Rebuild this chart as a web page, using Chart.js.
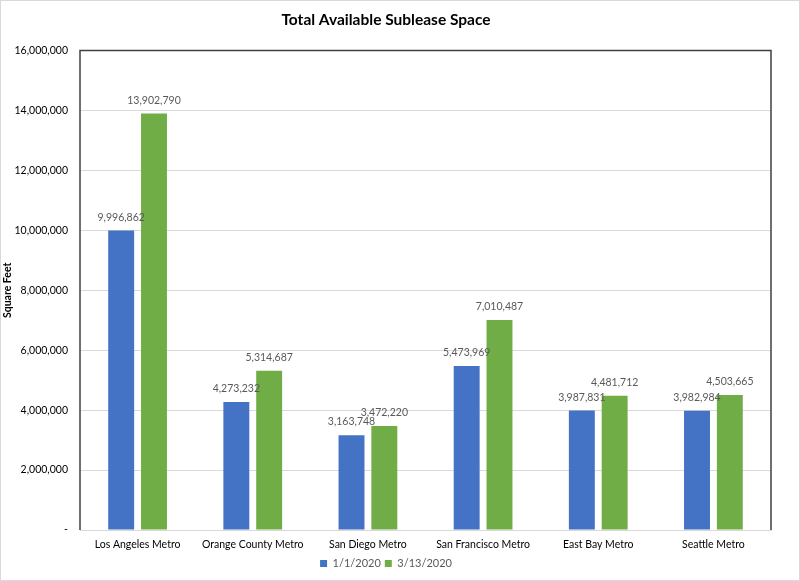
<!DOCTYPE html>
<html>
<head>
<meta charset="utf-8">
<script src="https://cdn.jsdelivr.net/npm/chart.js@4"></script>
<style>
  html, body { margin: 0; padding: 0; background: #fff; }
  #wrap { position: relative; width: 798px; height: 579px; border: 1px solid #d9d9d9; }
</style>
</head>
<body>
<div id="wrap"><canvas id="c"></canvas></div>
<script>
// ── DATA ──────────────────────────────────────────────────────────────────
const markets = ['Los Angeles Metro', 'Orange County Metro', 'San Diego Metro', 'San Francisco Metro', 'East Bay Metro', 'Seattle Metro'];
const jan2020 = [9996862, 4273232, 3163748, 5473969, 3987831, 3982984];
const mar2020 = [13902790, 5314687, 3472220, 7010487, 4481712, 4503665];
const seriesNames = ['1/1/2020', '3/13/2020'];

const FONT = 'Lato, "Open Sans", sans-serif';
const fmt = v => v.toLocaleString('en-US');

// labels above each bar
const barLabels = {
  id: 'barLabels',
  afterDatasetsDraw(chart) {
    const ctx = chart.ctx;
    ctx.save();
    ctx.fillStyle = '#595959';
    ctx.font = '10.5px ' + FONT;
    ctx.textAlign = 'center';
    ctx.textBaseline = 'bottom';
    chart.data.datasets.forEach((ds, i) => {
      chart.getDatasetMeta(i).data.forEach((bar, j) => {
        ctx.fillText(fmt(ds.data[j]), bar.x, bar.y - 8);
      });
    });
    ctx.restore();
  }
};

// dark frame on top/left/right of plot area
const plotFrame = {
  id: 'plotFrame',
  afterDraw(chart) {
    const { left, right, top, bottom } = chart.chartArea;
    const ctx = chart.ctx;
    ctx.save();
    ctx.strokeStyle = '#404040';
    ctx.lineWidth = 1.5;
    ctx.beginPath();
    ctx.moveTo(left, bottom);
    ctx.lineTo(left, top);
    ctx.lineTo(right, top);
    ctx.lineTo(right, bottom);
    ctx.stroke();
    ctx.restore();
  }
};

new Chart(document.getElementById('c'), {
  type: 'bar',
  data: {
    labels: markets,
    datasets: [
      { label: seriesNames[0], data: jan2020, backgroundColor: '#4472C4', categoryPercentage: 0.57, barPercentage: 0.79 },
      { label: seriesNames[1], data: mar2020, backgroundColor: '#70AD47', categoryPercentage: 0.57, barPercentage: 0.79 }
    ]
  },
  options: {
    responsive: true,
    maintainAspectRatio: false,
    animation: false,
    layout: { padding: { left: 0, right: 28, top: 8, bottom: 1 } },
    plugins: {
      title: {
        display: true,
        text: 'Total Available Sublease Space',
        color: '#000',
        font: { family: FONT, size: 15.5, weight: 'bold' },
        padding: { top: 2, bottom: 21 }
      },
      legend: {
        position: 'bottom',
        labels: { color: '#595959', font: { family: FONT, size: 11 }, boxWidth: 7, boxHeight: 7, padding: 4 }
      },
      tooltip: { enabled: false }
    },
    scales: {
      x: {
        afterFit(scale) { scale.height = 24; },
        grid: { display: false, drawTicks: false },
        border: { color: '#d9d9d9', width: 1 },
        ticks: { color: '#000', font: { family: FONT, size: 10.5 }, padding: 8, maxRotation: 0 }
      },
      y: {
        min: 0,
        max: 16000000,
        afterFit(scale) { scale.width = 79; },
        ticks: {
          stepSize: 2000000,
          color: '#000',
          font: { family: FONT, size: 10.5 },
          padding: 12,
          callback: v => v === 0 ? '-' : fmt(v)
        },
        grid: { color: '#d9d9d9', drawTicks: false },
        border: { display: false },
        title: {
          display: true,
          text: 'Square Feet',
          color: '#000',
          font: { family: FONT, size: 10.5, weight: 'bold' },
          padding: 0
        }
      }
    }
  },
  plugins: [barLabels, plotFrame]
});
</script>
</body>
</html>
